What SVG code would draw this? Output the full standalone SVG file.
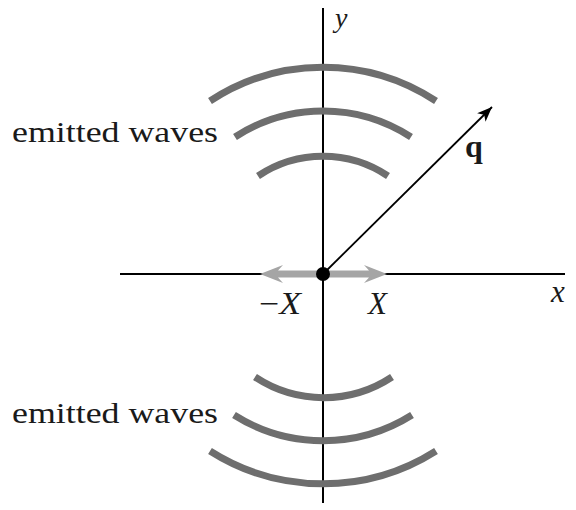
<svg xmlns="http://www.w3.org/2000/svg" width="576" height="510" viewBox="0 0 576 510">
<style>
.wave{fill:none;stroke:#6e6e6e;stroke-width:7;stroke-linecap:butt}
.axis{stroke:#000;stroke-width:2;fill:none}
.lbl{font-family:"Liberation Serif","DejaVu Serif",serif;font-size:31px;fill:#1a1a1a}
.it{font-style:italic}
.gray{fill:#a5a5a5}
</style>
<defs>
<marker id="ah" markerUnits="userSpaceOnUse" markerWidth="20" markerHeight="14" viewBox="-16 -7 18 14" refX="0" refY="0" orient="auto">
<path d="M0,0 L-15,-6 L-11,0 L-15,6 Z" fill="#000"/>
</marker>
</defs>
<rect width="576" height="510" fill="#fff"/>
<g id="axes">
<line class="axis" x1="323" y1="8" x2="323" y2="503"/>
<line class="axis" x1="120" y1="274" x2="565" y2="274"/>
</g>
<g id="waves-top">
<path class="wave" d="M210,101 A206,206 0 0 1 436,101"/>
<path class="wave" d="M235,137 A162,162 0 0 1 411,137"/>
<path class="wave" d="M258,176 A117,117 0 0 1 388,176"/>
</g>
<g id="waves-bottom">
<path class="wave" d="M255,377 A124,124 0 0 0 392,377"/>
<path class="wave" d="M234,415 A167,167 0 0 0 412,415"/>
<path class="wave" d="M210,451 A211,211 0 0 0 436,451"/>
</g>
<g id="connectors">
<line x1="323" y1="274" x2="492" y2="107" stroke="#000" stroke-width="1.8" marker-end="url(#ah)"/>
<path class="gray" d="M260,274 L283,265 L278,270.5 L323,270.5 L323,277.5 L278,277.5 L283,283 Z"/>
<path class="gray" d="M387,274 L364,265 L369,270.5 L323,270.5 L323,277.5 L369,277.5 L364,283 Z"/>
</g>
<g id="origin"><circle cx="323" cy="274" r="7" fill="#000"/></g>
<g id="labels">
<text class="lbl it" x="335" y="27" style="font-size:28px">y</text>
<text class="lbl it" x="551" y="302">x</text>
<text class="lbl" x="259" y="314" textLength="42" lengthAdjust="spacingAndGlyphs">−<tspan class="it">X</tspan></text>
<text class="lbl it" x="368" y="314">X</text>
<text class="lbl" x="465" y="157" style="font-weight:bold;font-size:32px">q</text>
<text class="lbl" x="12" y="142" style="font-size:30px" textLength="206" lengthAdjust="spacingAndGlyphs">emitted waves</text>
<text class="lbl" x="12" y="423" style="font-size:30px" textLength="206" lengthAdjust="spacingAndGlyphs">emitted waves</text>
</g>
</svg>
